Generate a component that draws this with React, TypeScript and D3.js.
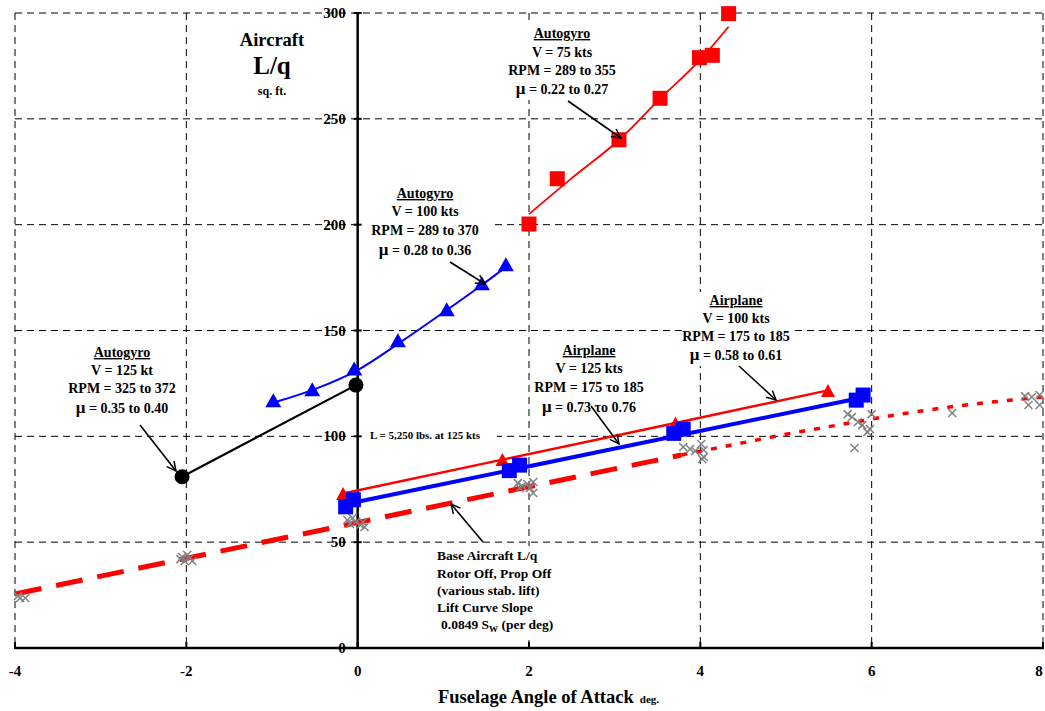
import React from "react";
import * as d3 from "d3";

// ---- Data (angle of attack in deg, L/q in sq. ft.) ----
const xTicks = [-4, -2, 0, 2, 4, 6, 8];
const yTicks = [0, 50, 100, 150, 200, 250, 300];

// Autogyro V = 75 kts (red squares + fitted curve)
const gyro75A = [2.0, 2.33, 3.05, 3.53, 3.99, 4.14, 4.33];
const gyro75L = [200.3, 221.7, 240.1, 259.7, 278.9, 280.0, 299.7];
const gyro75FitA = [2.0, 2.5, 3.05, 3.53, 4.0, 4.33];
const gyro75FitL = [205, 222, 240, 259.5, 278, 293.5];

// Autogyro V = 100 kts (blue triangles + fitted curve)
const gyro100A = [-0.985, -0.53, -0.04, 0.47, 1.04, 1.45, 1.73];
const gyro100L = [117.1, 122.2, 132.0, 145.4, 160.0, 172.3, 181.3];
const gyro100FitA = [-0.95, -0.5, 0, 0.5, 1.0, 1.45, 1.73];
const gyro100FitL = [116.3, 122.3, 131.3, 144.5, 158.5, 171.5, 180];

// Autogyro V = 125 kt (black circles)
const gyro125A = [-2.05, -0.02];
const gyro125L = [80.9, 124.2];

// Airplane V = 100 kts (red triangles)
const plane100A = [-0.17, 1.69, 3.71, 5.49];
const plane100L = [73.0, 89.0, 106.3, 121.7];

// Airplane V = 125 kts (blue squares + line)
const plane125A = [-0.14, -0.05, 1.77, 1.89, 3.69, 3.8, 5.82, 5.9];
const plane125L = [66.7, 70.0, 83.8, 86.4, 101.4, 103.4, 117.1, 119.5];
const plane125LineA = [-0.1, 5.85];
const plane125LineL = [68.3, 118];

// Base aircraft (rotor off, prop off)
const baseDashA = [-4, 3.78];
const baseDashL = [25.5, 91.2];
const baseDotA = [3.78, 4.44, 5.0, 5.63, 6.5, 7.0, 7.5, 8.0];
const baseDotL = [91.2, 96.5, 101, 105.5, 111.5, 114.3, 116.6, 118.6];
const baseTestA = [-3.965, -3.88, -3.94, -2.05, -1.99, -1.96, -2.02, -2.07, -1.93,
  -0.12, -0.06, -0.02, 0.03, 0.06, -0.09, 0.08,
  1.87, 1.92, 1.98, 2.05, 2.01, 2.05, 1.89,
  3.8, 3.88, 3.94, 4.01, 4.04, 4.04, 4.02,
  5.72, 5.77, 5.84, 5.89, 6.0, 5.98, 5.95, 5.8, 6.94,
  7.79, 7.87, 7.96, 7.83, 7.96];
const baseTestL = [24.6, 23.6, 23.6, 43.0, 43.9, 42.5, 41.1, 42.0, 41.1,
  60.5, 61.4, 59.5, 58.1, 59.5, 58.6, 57.2,
  77.9, 76.5, 77.5, 78.4, 75.6, 73.2, 75.6,
  95.0, 94.0, 93.1, 96.4, 93.5, 90.2, 89.3,
  110.5, 109.1, 106.8, 105.3, 110.5, 103.4, 102.0, 94.5, 111.0,
  119.0, 118.6, 119.5, 114.8, 114.8];

const W = 1045;
const H = 711;
const FONT = "'Liberation Serif', 'Times New Roman', Times, serif";

const zip = (a: number[], b: number[]) => a.map((v, i) => [v, b[i]] as [number, number]);

export default function App() {
  const x = d3.scaleLinear().domain([-4, 8]).range([15, 1043]);
  const y = d3.scaleLinear().domain([0, 300]).range([648, 13]);
  const lin = d3.line<[number, number]>().x((d) => x(d[0])).y((d) => y(d[1]));
  const smooth = d3
    .line<[number, number]>()
    .x((d) => x(d[0]))
    .y((d) => y(d[1]))
    .curve(d3.curveMonotoneX);

  const sq = (cx: number, cy: number, s: number, fill: string, k: string) => (
    <rect key={k} x={cx - s / 2} y={cy - s / 2} width={s} height={s} fill={fill} />
  );
  const tri = (cx: number, cy: number, w: number, h: number, fill: string, k: string) => (
    <path key={k} d={`M${cx},${cy - h / 2}L${cx + w / 2},${cy + h / 2}L${cx - w / 2},${cy + h / 2}Z`} fill={fill} />
  );
  const cross = (cx: number, cy: number, k: string) => (
    <path key={k} d={`M${cx - 4},${cy - 4}L${cx + 4},${cy + 4}M${cx - 4},${cy + 4}L${cx + 4},${cy - 4}`} stroke="#808080" strokeWidth={1.5} fill="none" />
  );

  const txt: React.CSSProperties = { fontFamily: FONT, fontWeight: "bold" };

  const block = (cx: number, ys: number[], lines: (string | React.ReactNode)[], key: string) => (
    <g key={key} style={txt} fontSize={14} textAnchor="middle" fill="#000">
      {lines.map((l, i) => (
        <text key={i} x={cx} y={ys[i]} textDecoration={i === 0 ? "underline" : undefined}>
          {l}
        </text>
      ))}
    </g>
  );
  const mu = (rest: string) => (
    <>
      <tspan fontSize={17}>μ</tspan>
      {rest}
    </>
  );

  const arrows: [number, number, number, number][] = [
    [568, 101, 621, 138],
    [450, 262, 485, 284],
    [140, 425, 176, 471],
    [591, 406, 619, 444],
    [739, 366, 776, 400],
    [483, 542, 451, 504],
  ];

  // white text-box fills (x, y, w, h) that hide grid lines behind annotation boxes
  const boxes: [number, number, number, number][] = [
    [505, 20, 115, 80],
    [362, 184, 128, 78],
    [682, 292, 108, 74],
    [362, 429, 135, 14],
    [432, 546, 133, 94],
  ];

  return (
    <svg width={W} height={H} style={{ position: "absolute", left: 0, top: 0, background: "#fff" }}>
      <defs>
        <marker id="arrowHead" viewBox="0 0 12 12" refX="11" refY="6" markerWidth="11" markerHeight="11" orient="auto" markerUnits="userSpaceOnUse">
          <path d="M1,1 L11,6 L1,11" fill="none" stroke="#000" strokeWidth={1.6} />
        </marker>
      </defs>
      <rect x={0} y={0} width={W} height={H} fill="#fff" />

      {/* grid */}
      <g stroke="#000" strokeWidth={1} strokeDasharray="7,5" fill="none">
        {yTicks
          .filter((t) => t > 0)
          .map((t) => (
            <line key={"gy" + t} x1={x(-4)} x2={x(8)} y1={y(t)} y2={y(t)} />
          ))}
        {xTicks
          .filter((t) => t !== 0)
          .map((t) => (
            <line key={"gx" + t} x1={x(t)} x2={x(t)} y1={y(300)} y2={y(0)} />
          ))}
      </g>
      {boxes.map((b, i) => (
        <rect key={"box" + i} x={b[0]} y={b[1]} width={b[2]} height={b[3]} fill="#fff" />
      ))}

      {/* axes */}
      <line x1={x(-4)} x2={x(8)} y1={y(0)} y2={y(0)} stroke="#000" strokeWidth={2.5} />
      <line x1={x(0)} x2={x(0)} y1={y(0)} y2={y(300)} stroke="#000" strokeWidth={2.5} />
      {xTicks.map((t) => (
        <line key={"xt" + t} x1={x(t)} x2={x(t)} y1={y(0) + 1} y2={y(0) - 6} stroke="#000" strokeWidth={2} />
      ))}
      {yTicks.map((t) => (
        <line key={"yt" + t} x1={x(0) - 4} x2={x(0) + 4} y1={y(t)} y2={y(t)} stroke="#000" strokeWidth={2} />
      ))}
      <g style={txt} fontSize={15} fill="#000">
        {yTicks.map((t) => (
          <text key={"yl" + t} x={x(0) - 12} y={y(t) + 5} textAnchor="end">
            {t}
          </text>
        ))}
        {xTicks.map((t) => (
          <text key={"xl" + t} x={Math.min(x(t), W - 6)} y={676} textAnchor="middle">
            {t}
          </text>
        ))}
      </g>
      <text x={438} y={703} style={txt} fontSize={18.5} fill="#000">
        Fuselage Angle of Attack
        <tspan fontSize={11} dx={6}>deg.</tspan>
      </text>

      {/* Title */}
      <g style={txt} textAnchor="middle" fill="#000">
        <text x={272} y={46} fontSize={18.5}>Aircraft</text>
        <text x={272} y={74} fontSize={25}>L/q</text>
        <text x={272} y={95} fontSize={12}>sq. ft.</text>
      </g>

      {/* base aircraft */}
      <path d={lin(zip(baseDashA, baseDashL)) || ""} stroke="#ff0000" strokeWidth={5} strokeDasharray="27,15" fill="none" />
      <path d={smooth(zip(baseDotA, baseDotL)) || ""} stroke="#ff0000" strokeWidth={3.5} strokeDasharray="6,9" fill="none" />
      {zip(baseTestA, baseTestL).map((d, i) => cross(x(d[0]), y(d[1]), "bt" + i))}

      {/* autogyro 125 kt */}
      <path d={lin(zip(gyro125A, gyro125L)) || ""} stroke="#000" strokeWidth={2.2} fill="none" />
      {zip(gyro125A, gyro125L).map((d, i) => (
        <circle key={"c" + i} cx={x(d[0])} cy={y(d[1])} r={7.5} fill="#000" />
      ))}

      {/* autogyro 100 kts */}
      <path d={smooth(zip(gyro100FitA, gyro100FitL)) || ""} stroke="#0000ff" strokeWidth={2} fill="none" />
      {zip(gyro100A, gyro100L).map((d, i) => tri(x(d[0]), y(d[1]), 16, 14, "#0000ff", "bt3" + i))}

      {/* autogyro 75 kts */}
      <path d={smooth(zip(gyro75FitA, gyro75FitL)) || ""} stroke="#ff0000" strokeWidth={1.8} fill="none" />
      {zip(gyro75A, gyro75L).map((d, i) => sq(x(d[0]), y(d[1]), 15, "#ff0000", "rs" + i))}

      {/* airplane 100 kts */}
      <path d={lin(zip(plane100A, plane100L)) || ""} stroke="#ff0000" strokeWidth={2.5} fill="none" />
      {zip(plane100A, plane100L).map((d, i) => tri(x(d[0]), y(d[1]), 14, 13, "#ff0000", "rt" + i))}

      {/* airplane 125 kts */}
      <path d={lin(zip(plane125LineA, plane125LineL)) || ""} stroke="#0000ff" strokeWidth={4} fill="none" />
      {zip(plane125A, plane125L).map((d, i) => sq(x(d[0]), y(d[1]), 15, "#0000ff", "bs" + i))}

      {/* arrows */}
      {arrows.map((a, i) => (
        <line key={"ar" + i} x1={a[0]} y1={a[1]} x2={a[2]} y2={a[3]} stroke="#000" strokeWidth={1.6} markerEnd="url(#arrowHead)" />
      ))}

      {/* annotations */}
      {block(562, [38, 57, 75, 94], ["Autogyro", "V = 75 kts", "RPM = 289 to 355", mu(" = 0.22 to 0.27")], "a75")}
      {block(425, [198, 216, 235, 255], ["Autogyro", "V = 100 kts", "RPM = 289 to 370", mu(" = 0.28 to 0.36")], "a100")}
      {block(122, [357, 375, 393, 413], ["Autogyro", "V = 125 kt", "RPM = 325 to 372", mu(" = 0.35 to 0.40")], "a125")}
      {block(589, [355, 373, 392, 412], ["Airplane", "V = 125 kts", "RPM = 175 τo 185", mu(" = 0.73 τo 0.76")], "p125")}
      {block(736, [305, 323, 341, 360], ["Airplane", "V = 100 kts", "RPM = 175 to 185", mu(" = 0.58 to 0.61")], "p100")}

      <text x={370} y={439} style={txt} fontSize={10.5} fill="#000" textLength={110} lengthAdjust="spacingAndGlyphs">
        L = 5,250 lbs. at 125 kts
      </text>

      <g style={txt} fontSize={13.5} fill="#000">
        <text x={437} y={560}>Base Aircraft L/q</text>
        <text x={437} y={578}>Rotor Off, Prop Off</text>
        <text x={437} y={595}>(various stab. lift)</text>
        <text x={437} y={612}>Lift Curve Slope</text>
        <text x={441} y={629}>
          0.0849 S<tspan fontSize={9} dy={3}>W</tspan>
          <tspan dy={-3}> (per deg)</tspan>
        </text>
      </g>
    </svg>
  );
}
